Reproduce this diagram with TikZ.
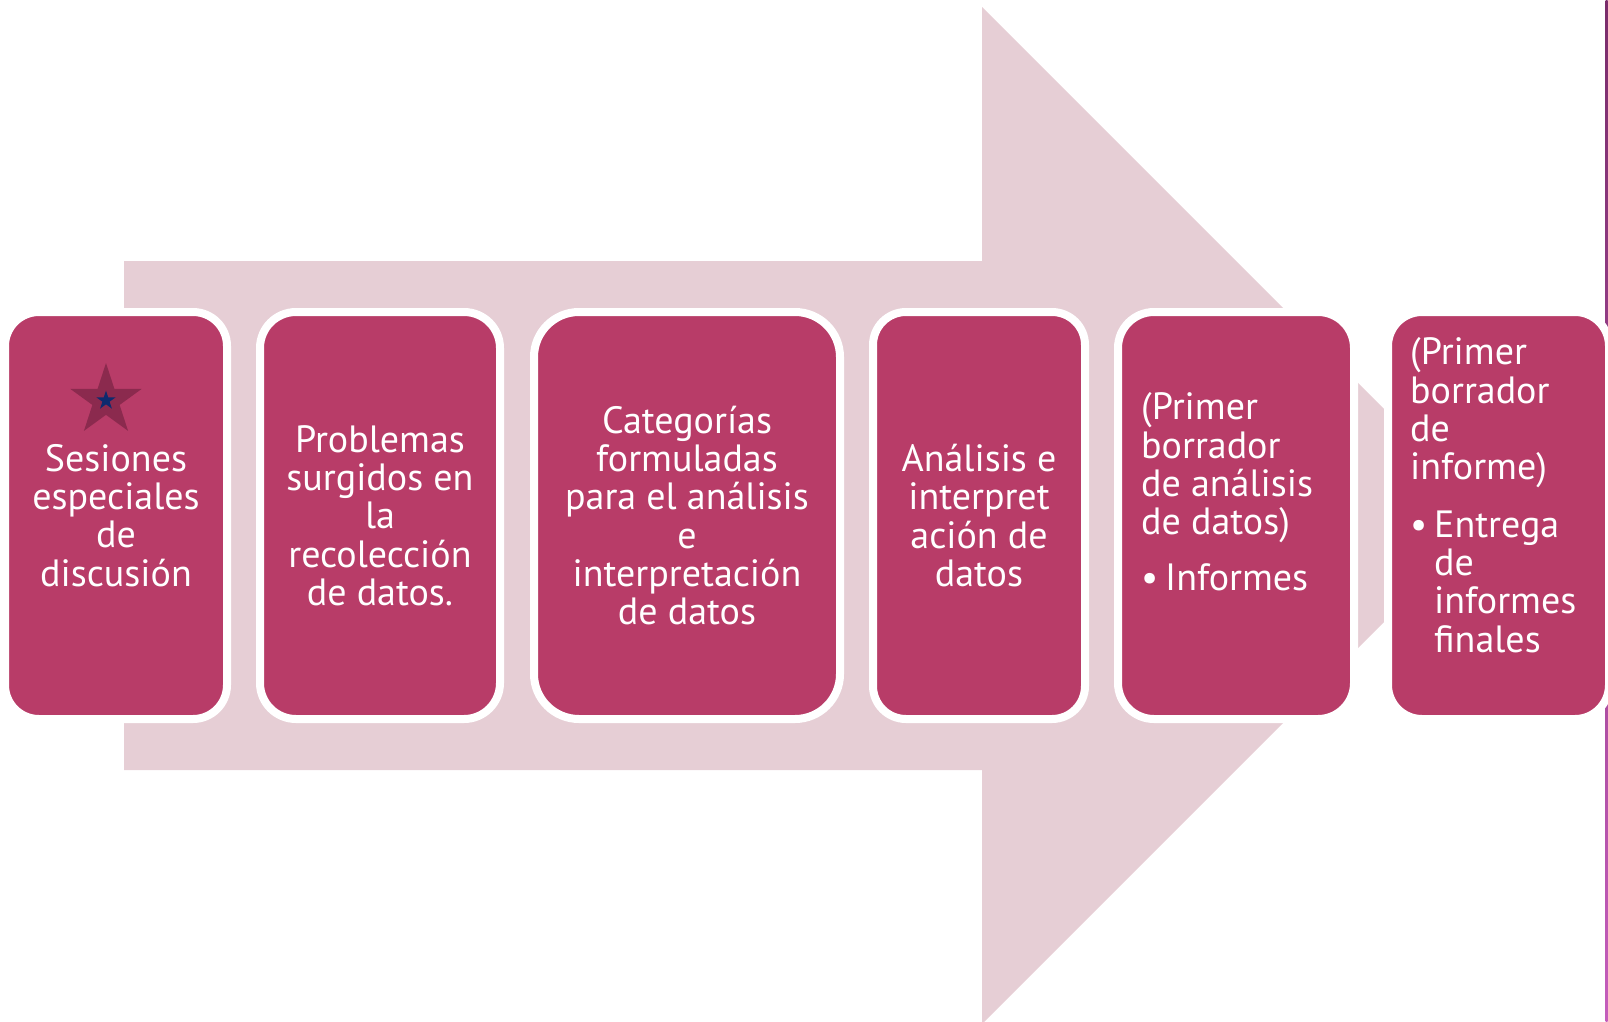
\documentclass[tikz,border=0pt]{standalone}
\usepackage{fontspec}
\setmainfont{PT Sans}
\usetikzlibrary{shapes.geometric}

\begin{document}
\begin{tikzpicture}[x=1pt,y=-1pt,
  stage/.style={rectangle,draw=white,line width=8pt,fill=colBox,
    minimum height=407pt,inner sep=0pt,text=white,align=center,
    font=\fontsize{38}{38.3}\selectfont},
  listtext/.style={inner sep=0pt,text=white,align=left,
    font=\fontsize{38}{38.3}\selectfont}]

\definecolor{colArrow}{RGB}{230,206,213}
\definecolor{colBox}{RGB}{184,60,104}
\definecolor{colStar}{RGB}{139,42,78}
\definecolor{colNavy}{RGB}{14,42,110}
\definecolor{colEdgeA}{RGB}{122,44,106}
\definecolor{colEdgeB}{RGB}{196,93,187}

\useasboundingbox (0,0) rectangle (1608,1021);

% big arrow behind the stages
\fill[colArrow] (124,261) -- (982,261) -- (982,7) -- (1490.5,515.5)
      -- (982,1024) -- (982,770) -- (124,770) -- cycle;

% slide edge
\shade[top color=colEdgeA,bottom color=colEdgeB]
      (1605.5,0) rectangle (1607.5,1021);

% stages
\node[stage,minimum width=222pt,rounded corners=34pt]
      (s1) at (116,515.5) {Sesiones\\especiales\\de\\discusión};
\node[stage,minimum width=240pt,rounded corners=36pt]
      (s2) at (380,515.5) {Problemas\\surgidos en\\la\\recolección\\de datos.};
\node[stage,minimum width=306pt,rounded corners=45pt]
      (s3) at (687,515.5) {Categorías\\formuladas\\para el análisis\\e\\interpretación\\de datos};
\node[stage,minimum width=212pt,rounded corners=33pt]
      (s4) at (979,515.5) {Análisis e\\interpret\\ación de\\datos};
\node[stage,minimum width=236pt,rounded corners=36pt]
      (s5) at (1236,515.5) {};
\node[stage,minimum width=221pt,rounded corners=34pt]
      (s6) at (1498.5,515.5) {};

% lists (base = last line)
\node[listtext,anchor=base west]
      (t5) at (1141,590)
      {(Primer\\borrador\\de análisis\\de datos)\\[17pt]%
       \makebox[24pt][l]{\textbullet}Informes};
\node[listtext,anchor=base west]
      (t6) at (1410,652)
      {(Primer\\borrador\\de\\informe)\\[19pt]%
       \makebox[24pt][l]{\textbullet}Entrega\\
       \hspace*{24pt}de\\
       \hspace*{24pt}informes\\
       \hspace*{24pt}finales};

% star on the first stage
\node[star,star points=5,star point ratio=2.618,minimum size=75pt,
      inner sep=0pt,fill=colStar]
      (bigstar) at (106,400.5) {};
\node[star,star points=5,star point ratio=2.618,minimum size=20pt,
      inner sep=0pt,fill=colNavy]
      (smallstar) at (bigstar.center) {};

\end{tikzpicture}
\end{document}
